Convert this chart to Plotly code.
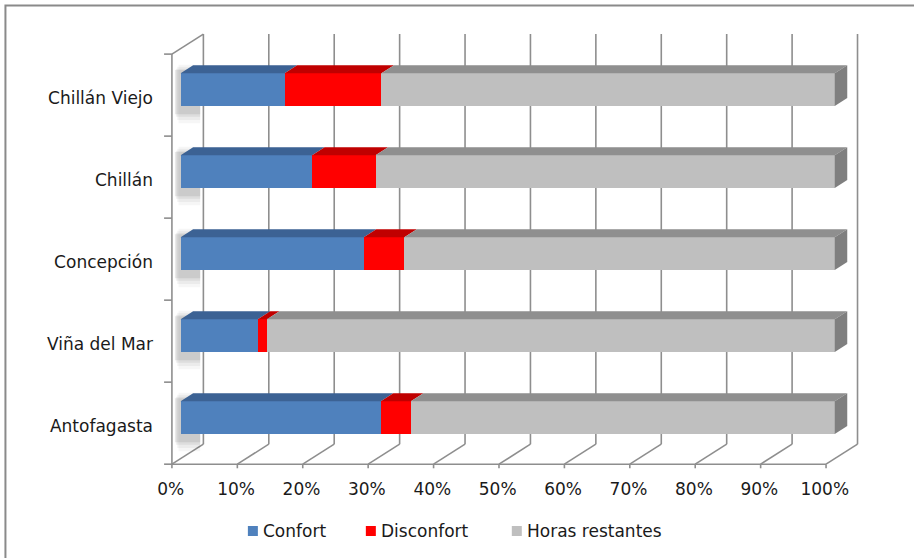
import plotly.graph_objects as go

# ---------------- data ----------------
categories = ["Antofagasta", "Viña del Mar", "Concepción", "Chillán", "Chillán Viejo"]
confort = [30.6, 11.8, 28.0, 20.1, 15.9]
disconfort = [4.6, 1.4, 6.2, 9.7, 14.8]
horas_restantes = [64.8, 86.8, 65.8, 70.2, 69.3]
series_names = ["Confort", "Disconfort", "Horas restantes"]
x_ticks = [0, 10, 20, 30, 40, 50, 60, 70, 80, 90, 100]
x_tick_labels = ["0%", "10%", "20%", "30%", "40%", "50%", "60%", "70%", "80%", "90%", "100%"]

# ---------------- style ----------------
front_colors = ["#4F81BD", "#FF0000", "#BFBFBF"]
top_colors = ["#3C6294", "#C00000", "#8F8F8F"]
side_color = "#7F7F7F"
grid_color = "#8E8E8E"
FONT = "DejaVu Sans"
FSIZE = 17
BAR_W = 0.4
# 3-D depth offsets expressed in data units of the bar plane
DX_BAR, DY_BAR = 1.91, 0.097      # bar depth
FX, FY = -1.33, -0.067            # front plane of the walls
BX, BY = 3.48, 0.177              # back plane of the walls

W, H = 914, 558
L_PX, R_PX, T_PX, B_PX = 161.1, 874.3, 30.0, 470.0
X_RANGE = [-3.0, 106.0]
Y_RANGE = [-0.638, 4.727]

ys = list(range(len(categories)))
series = [confort, disconfort, horas_restantes]

fig = go.Figure()

# front faces (stacked bars)
for name, vals, col in zip(series_names, series, front_colors):
    fig.add_trace(go.Bar(
        y=ys, x=vals, orientation="h", name=name, width=BAR_W,
        marker=dict(color=col, line=dict(width=0)), showlegend=False,
        hoverinfo="x+name"))

# top faces and right side face
left = [0.0] * len(ys)
for si, (vals, col) in enumerate(zip(series, top_colors)):
    px_, py_ = [], []
    for i, y in enumerate(ys):
        x0 = left[i]
        x1 = x0 + vals[i]
        yt = y + BAR_W / 2
        px_ += [x0, x1, x1 + DX_BAR, x0 + DX_BAR, x0, None]
        py_ += [yt, yt, yt + DY_BAR, yt + DY_BAR, yt, None]
        left[i] = x1
    fig.add_trace(go.Scatter(x=px_, y=py_, mode="lines", fill="toself",
                             fillcolor=col, line=dict(width=0, color=col),
                             hoverinfo="skip", showlegend=False))
sx, sy = [], []
for i, y in enumerate(ys):
    xe = left[i]
    yb, yt = y - BAR_W / 2, y + BAR_W / 2
    sx += [xe, xe, xe + DX_BAR, xe + DX_BAR, xe, None]
    sy += [yb, yt, yt + DY_BAR, yb + DY_BAR, yb, None]
fig.add_trace(go.Scatter(x=sx, y=sy, mode="lines", fill="toself",
                         fillcolor=side_color, line=dict(width=0, color=side_color),
                         hoverinfo="skip", showlegend=False))

shapes = []
line_style = dict(color=grid_color, width=1.6)
y_lo = -0.5
y_hi = len(categories) - 0.5
# back wall gridlines + floor diagonals + front floor ticks
for t in x_ticks:
    shapes.append(dict(type="line", xref="x", yref="y", layer="below",
                       x0=t + BX, x1=t + BX, y0=y_lo + BY, y1=y_hi + BY, line=line_style))
    shapes.append(dict(type="line", xref="x", yref="y", layer="below",
                       x0=t + FX, x1=t + BX, y0=y_lo + FY, y1=y_lo + BY, line=line_style))
    shapes.append(dict(type="line", xref="x", yref="y", layer="below",
                       x0=t + FX, x1=t + FX, y0=y_lo + FY, y1=y_lo + FY - 0.05, line=line_style))
# floor front edge
shapes.append(dict(type="line", xref="x", yref="y", layer="below",
                   x0=x_ticks[0] + FX, x1=x_ticks[-1] + FX, y0=y_lo + FY, y1=y_lo + FY, line=line_style))
# left wall front edge + top diagonal
shapes.append(dict(type="line", xref="x", yref="y", layer="below",
                   x0=FX, x1=FX, y0=y_lo + FY, y1=y_hi + FY, line=line_style))
shapes.append(dict(type="line", xref="x", yref="y", layer="below",
                   x0=FX, x1=BX, y0=y_hi + FY, y1=y_hi + BY, line=line_style))
# left wall category boundary ticks
for k in range(len(categories) + 1):
    yk = y_lo + k + FY
    shapes.append(dict(type="line", xref="x", yref="y", layer="below",
                       x0=FX - 1.2, x1=FX, y0=yk, y1=yk, line=line_style))
# soft shadows on the left wall
for y in ys:
    for grow, alpha in [(0.14, 0.035), (0.10, 0.045), (0.06, 0.06), (0.03, 0.08)]:
        shapes.append(dict(type="rect", xref="x", yref="y", layer="below",
                           x0=FX + 0.3 + grow * 5, x1=3.0,
                           y0=y - BAR_W / 2 - 0.07 - grow, y1=y + BAR_W / 2 + 0.02 + grow * 0.6,
                           fillcolor=f"rgba(0,0,0,{alpha})", line=dict(width=0)))


def paper_x(px):
    return (px - L_PX) / (R_PX - L_PX)


def paper_y(py):
    return (B_PX - py) / (B_PX - T_PX)


# outer border
shapes.append(dict(type="rect", xref="paper", yref="paper",
                   x0=paper_x(5.5), x1=paper_x(W + 20), y0=paper_y(H + 20), y1=paper_y(5.5),
                   line=dict(color="#8A8A8A", width=2), fillcolor="rgba(0,0,0,0)"))

# manual legend
annotations = []
legend_x = [248, 366, 512]
legend_y = 531
for name, col, lx in zip(series_names, front_colors, legend_x):
    shapes.append(dict(type="rect", xref="paper", yref="paper",
                       x0=paper_x(lx), x1=paper_x(lx + 10),
                       y0=paper_y(legend_y + 5), y1=paper_y(legend_y - 5),
                       fillcolor=col, line=dict(width=0)))
    annotations.append(dict(xref="paper", yref="paper", x=paper_x(lx + 13), y=paper_y(legend_y),
                            xanchor="left", yanchor="middle", text=name, showarrow=False,
                            font=dict(family=FONT, size=FSIZE, color="#1a1a1a")))

fig.update_layout(
    width=W, height=H,
    margin=dict(l=L_PX, r=W - R_PX, t=T_PX, b=H - B_PX, autoexpand=False),
    plot_bgcolor="white", paper_bgcolor="white",
    barmode="stack", showlegend=False,
    font=dict(family=FONT, size=FSIZE, color="#1a1a1a"),
    shapes=shapes, annotations=annotations,
    xaxis=dict(range=X_RANGE, tickvals=x_ticks, ticktext=x_tick_labels,
               showgrid=False, zeroline=False, showline=False, ticks="",
               ticklabelstandoff=7, ticklabelshift=-10, fixedrange=True),
    yaxis=dict(range=Y_RANGE, tickvals=ys, ticktext=categories,
               showgrid=False, zeroline=False, showline=False, ticks="",
               ticklabelstandoff=7, ticklabelshift=8, fixedrange=True),
)

fig.write_html("out.html", config={"displayModeBar": False},
               post_script="document.body.style.margin='0';")
